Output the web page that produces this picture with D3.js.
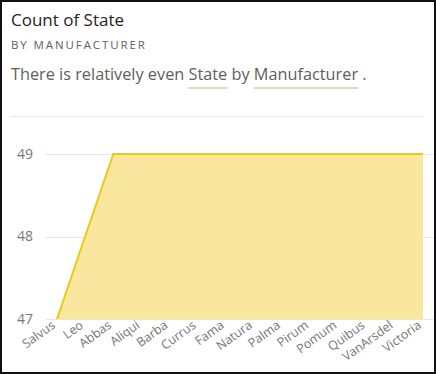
<!DOCTYPE html>
<html>
<head>
<meta charset="utf-8">
<script src="https://cdn.jsdelivr.net/npm/d3@7"></script>
<style>
  html, body { margin: 0; padding: 0; background: #fff; }
  svg { display: block; font-family: "Open Sans", sans-serif; }
</style>
</head>
<body>
<div id="chart"></div>
<script>
// values
const manufacturers = ["Salvus", "Leo", "Abbas", "Aliqui", "Barba", "Currus", "Fama",
                       "Natura", "Palma", "Pirum", "Pomum", "Quibus", "VanArsdel", "Victoria"]
const stateCounts = [47, 48, 49, 49, 49, 49, 49, 49, 49, 49, 49, 49, 49, 49]
const yTicks = [47, 48, 49]

const width = 436, height = 374

const svg = d3.select("#chart")
    .append("svg")
    .attr("width", width)
    .attr("height", height)

// frame
svg.append("rect")
    .attr("x", 1).attr("y", 1)
    .attr("width", width - 2).attr("height", height - 2)
    .attr("fill", "#fff")
    .attr("stroke", "#111")
    .attr("stroke-width", 2)

// header
svg.append("text")
    .attr("x", 11).attr("y", 26)
    .attr("font-size", 17)
    .attr("fill", "#252423")
    .text("Count of State")

svg.append("text")
    .attr("x", 11).attr("y", 49)
    .attr("font-size", 11.5)
    .attr("letter-spacing", 1.9)
    .attr("fill", "#605e5c")
    .text("BY MANUFACTURER")

// narrative line with underlined fields
const parts = [
    {t: "There is relatively even ", u: false},
    {t: "State", u: true},
    {t: " by ", u: false},
    {t: "Manufacturer", u: true},
    {t: " .", u: false}
]
const narr = svg.append("text")
    .attr("x", 11).attr("y", 80)
    .attr("font-size", 16.3)
    .attr("fill", "#605e5c")
narr.selectAll("tspan")
    .data(parts)
    .join("tspan")
    .text(d => d.t)

let pos = 0
parts.forEach(p => {
    const start = pos
    pos += p.t.length
    if (!p.u) return
    const node = narr.node()
    const x0 = 11 + node.getSubStringLength(0, start)
    const w = node.getSubStringLength(start, p.t.length)
    svg.append("line")
        .attr("x1", x0).attr("x2", x0 + w)
        .attr("y1", 88).attr("y2", 88)
        .attr("stroke", "#dcdac0")
        .attr("stroke-width", 2)
})

// separator
svg.append("line")
    .attr("x1", 10).attr("x2", 424)
    .attr("y1", 116.5).attr("y2", 116.5)
    .attr("stroke", "#ebebeb")

// scales
const x = d3.scalePoint()
    .domain(manufacturers)
    .range([57, 423])

const y = d3.scaleLinear()
    .domain([47, 49])
    .range([319, 154])

// gridlines + y labels
svg.selectAll(".grid")
    .data(yTicks)
    .join("line")
    .attr("class", "grid")
    .attr("x1", 46).attr("x2", 433)
    .attr("y1", d => Math.round(y(d)) + 0.5)
    .attr("y2", d => Math.round(y(d)) + 0.5)
    .attr("stroke", "#e6e6e6")

svg.selectAll(".ylab")
    .data(yTicks)
    .join("text")
    .attr("class", "ylab")
    .attr("x", 33)
    .attr("y", d => y(d))
    .attr("dy", "0.35em")
    .attr("text-anchor", "end")
    .attr("font-size", 14)
    .attr("fill", "#777")
    .text(d => d)

// area + line
const data = manufacturers.map((m, i) => ({m: m, v: stateCounts[i]}))

const area = d3.area()
    .x(d => x(d.m))
    .y0(y(47))
    .y1(d => y(d.v))

const line = d3.line()
    .x(d => x(d.m))
    .y(d => y(d.v))

svg.append("path")
    .datum(data)
    .attr("d", area)
    .attr("fill", "#f9e7a0")

svg.append("path")
    .datum(data)
    .attr("d", line)
    .attr("fill", "none")
    .attr("stroke", "#f2c80f")
    .attr("stroke-width", 2)

// x labels, rotated
svg.selectAll(".xlab")
    .data(manufacturers)
    .join("text")
    .attr("class", "xlab")
    .attr("text-anchor", "end")
    .attr("font-size", 12.5)
    .attr("fill", "#777")
    .attr("transform", d => `translate(${x(d) - 1},${327}) rotate(-36)`)
    .text(d => d)
</script>
</body>
</html>
